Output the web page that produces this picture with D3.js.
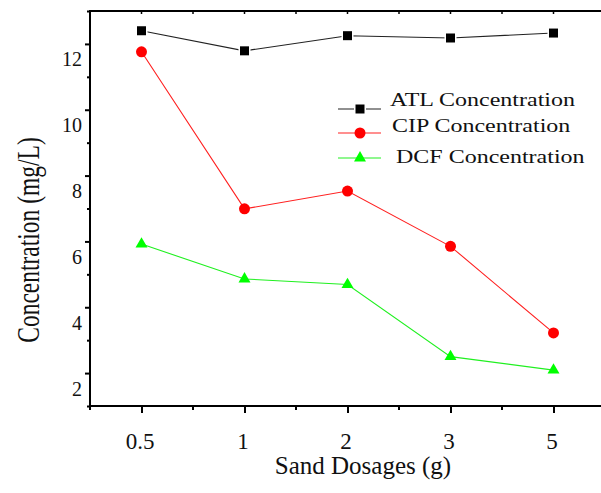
<!DOCTYPE html>
<html>
<head>
<meta charset="utf-8">
<title>Concentration vs Sand Dosages</title>
<style>
  body { margin: 0; background: #fff; }
  svg text { font-family: "Liberation Serif", "Times New Roman", serif; fill: #111; }
</style>
</head>
<body>
<svg id="chart" width="601" height="493"></svg>
<script src="https://d3js.org/d3.v7.min.js"></script>
<script>
// data
const dosages = ['0.5', '1', '2', '3', '5'];
const atl = [12.4, 11.79, 12.25, 12.18, 12.33];
const cip = [11.76, 6.99, 7.53, 5.85, 3.22];
const dcf = [5.92, 4.86, 4.69, 2.5, 2.09];
const yMajor = [2, 4, 6, 8, 10, 12];
const yMinor = [1, 3, 5, 7, 9, 11, 13];
const seriesNames = ['ATL Concentration', 'CIP Concentration', 'DCF Concentration'];

const svg = d3.select('#chart');
const plotL = 90, plotR = 605, plotT = 11, plotB = 406;

const x = d3.scalePoint().domain(dosages).range([plotL, plotR]).padding(0.5);
const y = d3.scaleLinear().domain([1, 13]).range([plotB, plotT]);

const series = [
  { name: seriesNames[0], values: atl, color: '#000', line: '#222', shape: d3.symbolSquare, size: 81 },
  { name: seriesNames[1], values: cip, color: '#ff0000', line: '#ff2020', shape: d3.symbolCircle, size: 95 },
  { name: seriesNames[2], values: dcf, color: '#00ff00', line: '#20f020', shape: d3.symbolTriangle, size: 62 }
];

// half-step positions for the minor x ticks
const step = x.step();
const xMinor = d3.range(6).map(i => plotL + i * step);

// frame
svg.append('rect')
  .attr('x', plotL).attr('y', plotT)
  .attr('width', plotR - plotL).attr('height', plotB - plotT)
  .attr('fill', 'none').attr('stroke', '#000').attr('stroke-width', 2);

// y axis
const yAxis = svg.append('g').attr('transform', `translate(${plotL},0)`)
  .call(d3.axisLeft(y).tickValues(yMajor).tickSize(5).tickFormat(d3.format('d')));
yAxis.select('.domain').remove();
yAxis.selectAll('line').attr('stroke-width', 2);
yAxis.selectAll('text')
  .attr('x', -8).attr('dy', 22)
  .style('font-size', '20px').style('font-family', '"Liberation Serif", serif');

svg.append('g').attr('transform', `translate(${plotL},0)`)
  .call(d3.axisLeft(y).tickValues(yMinor).tickSize(3).tickFormat(''))
  .call(g => g.select('.domain').remove())
  .selectAll('line').attr('stroke-width', 2);

// x axis
const xAxis = svg.append('g').attr('transform', `translate(0,${plotB})`)
  .call(d3.axisBottom(x).tickSize(7));
xAxis.select('.domain').remove();
xAxis.selectAll('line').attr('stroke-width', 2);
xAxis.selectAll('text')
  .attr('y', 43).attr('dy', 0).attr('dx', -2)
  .style('font-size', '23px').style('font-family', '"Liberation Serif", serif');

svg.append('g').selectAll('line')
  .data(xMinor).join('line')
  .attr('x1', d => d).attr('x2', d => d)
  .attr('y1', plotB).attr('y2', plotB + 4)
  .attr('stroke', '#000').attr('stroke-width', 2);

// small inward ticks on the top edge
svg.append('g').selectAll('line')
  .data(dosages.map(d => x(d)).concat(xMinor)).join('line')
  .attr('x1', d => d).attr('x2', d => d)
  .attr('y1', plotT).attr('y2', plotT + 3)
  .attr('stroke', '#000').attr('stroke-width', 1.5);

// axis titles
svg.append('text')
  .attr('text-anchor', 'middle')
  .attr('transform', 'translate(38.5,240) rotate(-90) scale(1,1.3)')
  .style('font-size', '23.5px')
  .text('Concentration (mg/L)');

svg.append('text')
  .attr('x', 363).attr('y', 474)
  .attr('text-anchor', 'middle')
  .style('font-size', '25px')
  .text('Sand Dosages (g)');

// series
const line = d3.line().x((d, i) => x(dosages[i])).y(d => y(d));

series.forEach((s, k) => {
  svg.append('path')
    .datum(s.values)
    .attr('d', line)
    .attr('fill', 'none')
    .attr('stroke', s.line)
    .attr('stroke-width', 1.1);

  svg.append('g').selectAll('path')
    .data(s.values).join('path')
    .attr('transform', (d, i) => `translate(${x(dosages[i])},${y(d)})`)
    .attr('d', d3.symbol().type(s.shape).size(s.size))
    .attr('fill', s.color)
    // the black squares sit in a small white gap on their line
    .attr('stroke', k === 0 ? '#fff' : 'none')
    .attr('stroke-width', 3)
    .attr('paint-order', 'stroke');
});

// legend
const legendRows = [
  { ly: 109, tx: 390, ty: 106 },
  { ly: 133, tx: 392, ty: 132 },
  { ly: 158, tx: 396, ty: 163 }
];

series.forEach((s, i) => {
  const r = legendRows[i];
  const g = svg.append('g');
  g.append('line')
    .attr('x1', 338).attr('x2', 381)
    .attr('y1', r.ly).attr('y2', r.ly)
    .attr('stroke', s.line).attr('stroke-width', 1.1);
  g.append('path')
    .attr('transform', `translate(360,${r.ly})`)
    .attr('d', d3.symbol().type(s.shape).size(s.size))
    .attr('fill', s.color)
    .attr('stroke', '#fff').attr('stroke-width', i === 0 ? 3 : 0)
    .attr('paint-order', 'stroke');
  g.append('text')
    .attr('transform', `translate(${r.tx},${r.ty}) scale(1,0.8)`)
    .style('font-size', '24px')
    .text(s.name);
});
</script>
</body>
</html>
